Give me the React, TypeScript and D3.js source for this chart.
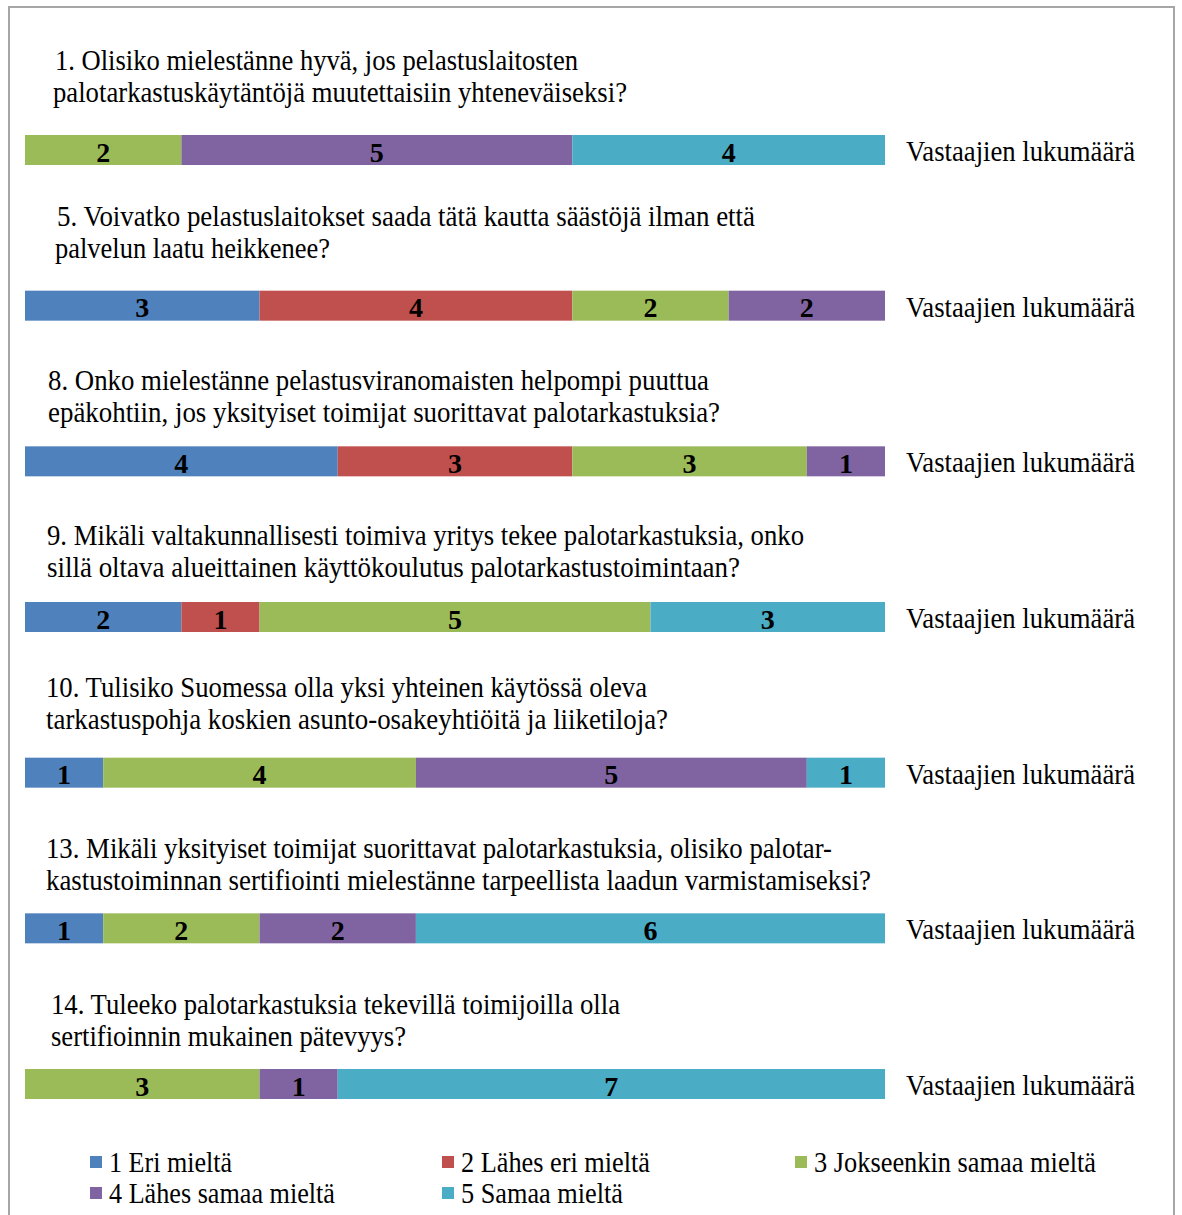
import React, { useEffect, useRef } from 'react';
import * as d3 from 'd3';

// vastausluokat
const categories = ['1 Eri mieltä', '2 Lähes eri mieltä', '3 Jokseenkin samaa mieltä', '4 Lähes samaa mieltä', '5 Samaa mieltä'];
const colors = ['#4F81BD', '#C0504D', '#9BBB59', '#8064A2', '#4BACC6'];

const questions = [
  ['1. Olisiko mielestänne hyvä, jos pelastuslaitosten', 'palotarkastuskäytäntöjä muutettaisiin yhteneväiseksi?'],
  ['5. Voivatko pelastuslaitokset saada tätä kautta säästöjä ilman että', 'palvelun laatu heikkenee?'],
  ['8. Onko mielestänne pelastusviranomaisten helpompi puuttua', 'epäkohtiin, jos yksityiset toimijat suorittavat  palotarkastuksia?'],
  ['9. Mikäli valtakunnallisesti toimiva yritys tekee palotarkastuksia, onko', 'sillä oltava alueittainen  käyttökoulutus palotarkastustoimintaan?'],
  ['10. Tulisiko Suomessa olla yksi yhteinen käytössä oleva', 'tarkastuspohja koskien asunto-osakeyhtiöitä ja  liiketiloja?'],
  ['13. Mikäli yksityiset toimijat suorittavat palotarkastuksia, olisiko palotar-', 'kastustoiminnan sertifiointi  mielestänne tarpeellista laadun varmistamiseksi?'],
  ['14. Tuleeko palotarkastuksia tekevillä toimijoilla  olla', 'sertifioinnin mukainen pätevyys?'],
];

// vastaajien lukumäärä per luokka (1..5)
const q1 = [0, 0, 2, 5, 4];
const q5 = [3, 4, 2, 2, 0];
const q8 = [4, 3, 3, 1, 0];
const q9 = [2, 1, 5, 0, 3];
const q10 = [1, 0, 4, 5, 1];
const q13 = [1, 0, 2, 2, 6];
const q14 = [0, 0, 3, 1, 7];
const counts = [q1, q5, q8, q9, q10, q13, q14];

const axisLabel = 'Vastaajien lukumäärä';

// tekstien sijoittelu (x-sisennys, rivien leveydet, pystysiirto)
const textLayout = [
  { x: [55, 53], w: [523, 574], dy: -75 },
  { x: [57, 55], w: [698, 275], dy: -75 },
  { x: [48, 48], w: [661, 672], dy: -66 },
  { x: [47, 47], w: [757, 693], dy: -67 },
  { x: [46, 46], w: [601, 622], dy: -71 },
  { x: [46, 46], w: [786, 825], dy: -65 },
  { x: [51, 51], w: [569, 355], dy: -65 },
];

const serif = "'Liberation Serif', 'DejaVu Serif', serif";

export default function App() {
  const svgRef = useRef(null);
  const width = 1182;
  const height = 1215;

  useEffect(() => {
    document.body.style.margin = '0';
    const svg = d3.select(svgRef.current);
    svg.selectAll('*').remove();

    svg.append('rect')
      .attr('x', 9).attr('y', 7)
      .attr('width', 1165).attr('height', 1230)
      .attr('fill', '#fff')
      .attr('stroke', '#a6a6a6')
      .attr('stroke-width', 2);

    const x = d3.scaleLinear().domain([0, 11]).range([25, 885]);
    const y = d3.scaleLinear().domain([0, counts.length - 1]).range([135, 1069]);
    const barH = 30;

    counts.forEach((row, i) => {
      const g = svg.append('g');
      const top = y(i);
      const lay = textLayout[i];

      questions[i].forEach((line, li) => {
        g.append('text')
          .attr('x', lay.x[li])
          .attr('y', top + lay.dy + li * 32)
          .attr('dominant-baseline', 'central')
          .style('font-family', serif)
          .attr('font-size', 29)
          .attr('textLength', lay.w[li])
          .attr('lengthAdjust', 'spacingAndGlyphs')
          .attr('fill', '#000')
          .text(line);
      });

      const stacked = [];
      let acc = 0;
      row.forEach((v, k) => {
        if (v > 0) stacked.push({ k, v, x0: acc, x1: acc + v });
        acc += v;
      });

      g.selectAll('rect.seg')
        .data(stacked)
        .join('rect')
        .attr('class', 'seg')
        .attr('x', d => x(d.x0))
        .attr('y', top)
        .attr('width', d => x(d.x1) - x(d.x0))
        .attr('height', barH)
        .attr('fill', d => colors[d.k]);

      g.selectAll('text.val')
        .data(stacked)
        .join('text')
        .attr('class', 'val')
        .attr('x', d => (x(d.x0) + x(d.x1)) / 2)
        .attr('y', top + barH / 2 + 2)
        .attr('text-anchor', 'middle')
        .attr('dominant-baseline', 'central')
        .style('font-family', serif)
        .attr('font-weight', 'bold')
        .attr('font-size', 28)
        .text(d => d.v);

      g.append('text')
        .attr('x', 906)
        .attr('y', top + barH / 2 + 1)
        .attr('dominant-baseline', 'central')
        .style('font-family', serif)
        .attr('font-size', 29)
        .attr('textLength', 229)
        .attr('lengthAdjust', 'spacingAndGlyphs')
        .text(axisLabel);
    });

    // selite
    const legendPos = [
      [90, 1162], [442, 1162], [795, 1162], [90, 1193], [442, 1193],
    ];
    const legendW = [123, 189, 282, 226, 162];
    categories.forEach((c, k) => {
      const [lx, ly] = legendPos[k];
      svg.append('rect')
        .attr('x', lx).attr('y', ly - 6)
        .attr('width', 12).attr('height', 12)
        .attr('fill', colors[k]);
      svg.append('text')
        .attr('x', lx + 19)
        .attr('y', ly)
        .attr('dominant-baseline', 'central')
        .style('font-family', serif)
        .attr('font-size', 29)
        .attr('textLength', legendW[k])
        .attr('lengthAdjust', 'spacingAndGlyphs')
        .text(c);
    });
  }, []);

  return <svg ref={svgRef} width={width} height={height} />;
}
